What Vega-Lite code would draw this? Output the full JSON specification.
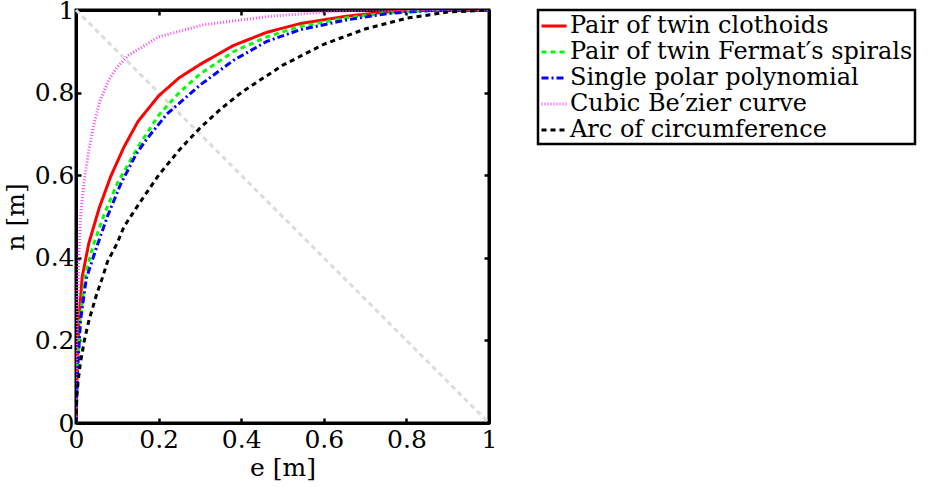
{
  "$schema": "https://vega.github.io/schema/vega-lite/v6.json",
  "width": 413,
  "height": 413,
  "autosize": {"type": "none"},
  "padding": {"left": 76, "top": 10, "right": 442, "bottom": 64},
  "background": "white",
  "config": {
    "view": {"stroke": "black", "strokeWidth": 3},
    "font": "DejaVu Serif",
    "axis": {
      "domainColor": "black", "domainWidth": 3, "tickColor": "black", "tickWidth": 2.5, "tickSize": -5,
      "labelFont": "DejaVu Serif", "labelFontSize": 25, "labelColor": "black", "labelFlush": false, "labelOverlap": false,
      "titleFont": "DejaVu Serif", "titleFontSize": 25, "titleFontWeight": "normal", "titleColor": "black",
      "grid": false
    },
    "legend": {
      "orient": "none", "legendX": 462, "legendY": 0,
      "strokeColor": "black", "strokeWidth": 2.5, "fillColor": "white", "padding": 2,
      "labelFont": "DejaVu Serif", "labelFontSize": 24, "labelColor": "black", "labelOffset": 2,
      "symbolType": "stroke", "symbolSize": 625, "rowPadding": 0, "labelLimit": 500
    }
  },
  "datasets": {
    "diag": [{"e": 0, "n": 1}, {"e": 1, "n": 0}],
    "curves": [
      {"series": "Pair of twin clothoids", "e": 0, "n": 0},
      {"series": "Pair of twin clothoids", "e": 0.001, "n": 0.07},
      {"series": "Pair of twin clothoids", "e": 0.003, "n": 0.13},
      {"series": "Pair of twin clothoids", "e": 0.007, "n": 0.25},
      {"series": "Pair of twin clothoids", "e": 0.015, "n": 0.354},
      {"series": "Pair of twin clothoids", "e": 0.031, "n": 0.435},
      {"series": "Pair of twin clothoids", "e": 0.056, "n": 0.52},
      {"series": "Pair of twin clothoids", "e": 0.084, "n": 0.597},
      {"series": "Pair of twin clothoids", "e": 0.116, "n": 0.668},
      {"series": "Pair of twin clothoids", "e": 0.15, "n": 0.73},
      {"series": "Pair of twin clothoids", "e": 0.2, "n": 0.792},
      {"series": "Pair of twin clothoids", "e": 0.25, "n": 0.836},
      {"series": "Pair of twin clothoids", "e": 0.3, "n": 0.868},
      {"series": "Pair of twin clothoids", "e": 0.381, "n": 0.914},
      {"series": "Pair of twin clothoids", "e": 0.462, "n": 0.946},
      {"series": "Pair of twin clothoids", "e": 0.542, "n": 0.967},
      {"series": "Pair of twin clothoids", "e": 0.655, "n": 0.985},
      {"series": "Pair of twin clothoids", "e": 0.75, "n": 0.995},
      {"series": "Pair of twin clothoids", "e": 0.85, "n": 1},
      {"series": "Pair of twin clothoids", "e": 1, "n": 1},

      {"series": "Pair of twin Fermat′s spirals", "e": 0, "n": 0},
      {"series": "Pair of twin Fermat′s spirals", "e": 0.001, "n": 0.06},
      {"series": "Pair of twin Fermat′s spirals", "e": 0.004, "n": 0.13},
      {"series": "Pair of twin Fermat′s spirals", "e": 0.01, "n": 0.25},
      {"series": "Pair of twin Fermat′s spirals", "e": 0.023, "n": 0.36},
      {"series": "Pair of twin Fermat′s spirals", "e": 0.04, "n": 0.425},
      {"series": "Pair of twin Fermat′s spirals", "e": 0.068, "n": 0.505},
      {"series": "Pair of twin Fermat′s spirals", "e": 0.1, "n": 0.58},
      {"series": "Pair of twin Fermat′s spirals", "e": 0.148, "n": 0.665},
      {"series": "Pair of twin Fermat′s spirals", "e": 0.2, "n": 0.745},
      {"series": "Pair of twin Fermat′s spirals", "e": 0.25, "n": 0.8},
      {"series": "Pair of twin Fermat′s spirals", "e": 0.3, "n": 0.845},
      {"series": "Pair of twin Fermat′s spirals", "e": 0.381, "n": 0.899},
      {"series": "Pair of twin Fermat′s spirals", "e": 0.462, "n": 0.935},
      {"series": "Pair of twin Fermat′s spirals", "e": 0.542, "n": 0.96},
      {"series": "Pair of twin Fermat′s spirals", "e": 0.655, "n": 0.981},
      {"series": "Pair of twin Fermat′s spirals", "e": 0.76, "n": 0.993},
      {"series": "Pair of twin Fermat′s spirals", "e": 0.87, "n": 1},
      {"series": "Pair of twin Fermat′s spirals", "e": 1, "n": 1},

      {"series": "Single polar polynomial", "e": 0, "n": 0},
      {"series": "Single polar polynomial", "e": 0.001, "n": 0.05},
      {"series": "Single polar polynomial", "e": 0.004, "n": 0.13},
      {"series": "Single polar polynomial", "e": 0.011, "n": 0.249},
      {"series": "Single polar polynomial", "e": 0.025, "n": 0.35},
      {"series": "Single polar polynomial", "e": 0.048, "n": 0.42},
      {"series": "Single polar polynomial", "e": 0.076, "n": 0.5},
      {"series": "Single polar polynomial", "e": 0.108, "n": 0.578},
      {"series": "Single polar polynomial", "e": 0.145, "n": 0.65},
      {"series": "Single polar polynomial", "e": 0.171, "n": 0.687},
      {"series": "Single polar polynomial", "e": 0.22, "n": 0.748},
      {"series": "Single polar polynomial", "e": 0.3, "n": 0.818},
      {"series": "Single polar polynomial", "e": 0.381, "n": 0.878},
      {"series": "Single polar polynomial", "e": 0.462, "n": 0.924},
      {"series": "Single polar polynomial", "e": 0.542, "n": 0.952},
      {"series": "Single polar polynomial", "e": 0.655, "n": 0.976},
      {"series": "Single polar polynomial", "e": 0.76, "n": 0.992},
      {"series": "Single polar polynomial", "e": 0.88, "n": 1},
      {"series": "Single polar polynomial", "e": 1, "n": 1},

      {"series": "Cubic Be′zier curve", "e": 0, "n": 0},
      {"series": "Cubic Be′zier curve", "e": 0.0005, "n": 0.1},
      {"series": "Cubic Be′zier curve", "e": 0.002, "n": 0.22},
      {"series": "Cubic Be′zier curve", "e": 0.005, "n": 0.35},
      {"series": "Cubic Be′zier curve", "e": 0.008, "n": 0.43},
      {"series": "Cubic Be′zier curve", "e": 0.011, "n": 0.5},
      {"series": "Cubic Be′zier curve", "e": 0.019, "n": 0.58},
      {"series": "Cubic Be′zier curve", "e": 0.031, "n": 0.661},
      {"series": "Cubic Be′zier curve", "e": 0.045, "n": 0.73},
      {"series": "Cubic Be′zier curve", "e": 0.058, "n": 0.78},
      {"series": "Cubic Be′zier curve", "e": 0.08, "n": 0.832},
      {"series": "Cubic Be′zier curve", "e": 0.1, "n": 0.862},
      {"series": "Cubic Be′zier curve", "e": 0.127, "n": 0.89},
      {"series": "Cubic Be′zier curve", "e": 0.2, "n": 0.935},
      {"series": "Cubic Be′zier curve", "e": 0.308, "n": 0.964},
      {"series": "Cubic Be′zier curve", "e": 0.462, "n": 0.984},
      {"series": "Cubic Be′zier curve", "e": 0.6, "n": 0.995},
      {"series": "Cubic Be′zier curve", "e": 0.7, "n": 1},
      {"series": "Cubic Be′zier curve", "e": 1, "n": 1},

      {"series": "Arc of circumference", "e": 0, "n": 0},
      {"series": "Arc of circumference", "e": 0.002, "n": 0.063},
      {"series": "Arc of circumference", "e": 0.005, "n": 0.1},
      {"series": "Arc of circumference", "e": 0.01, "n": 0.141},
      {"series": "Arc of circumference", "e": 0.02, "n": 0.199},
      {"series": "Arc of circumference", "e": 0.031, "n": 0.247},
      {"series": "Arc of circumference", "e": 0.05, "n": 0.312},
      {"series": "Arc of circumference", "e": 0.064, "n": 0.352},
      {"series": "Arc of circumference", "e": 0.076, "n": 0.39},
      {"series": "Arc of circumference", "e": 0.1, "n": 0.436},
      {"series": "Arc of circumference", "e": 0.116, "n": 0.475},
      {"series": "Arc of circumference", "e": 0.15, "n": 0.527},
      {"series": "Arc of circumference", "e": 0.2, "n": 0.6},
      {"series": "Arc of circumference", "e": 0.25, "n": 0.661},
      {"series": "Arc of circumference", "e": 0.3, "n": 0.714},
      {"series": "Arc of circumference", "e": 0.35, "n": 0.76},
      {"series": "Arc of circumference", "e": 0.4, "n": 0.8},
      {"series": "Arc of circumference", "e": 0.5, "n": 0.866},
      {"series": "Arc of circumference", "e": 0.6, "n": 0.917},
      {"series": "Arc of circumference", "e": 0.7, "n": 0.954},
      {"series": "Arc of circumference", "e": 0.8, "n": 0.98},
      {"series": "Arc of circumference", "e": 0.9, "n": 0.995},
      {"series": "Arc of circumference", "e": 1, "n": 1}
    ]
  },
  "layer": [
    {
      "data": {"name": "diag"},
      "mark": {"type": "line", "color": "#dcdcdc", "strokeWidth": 3, "strokeDash": [5, 4]},
      "encoding": {
        "x": {"field": "e", "type": "quantitative", "scale": {"domain": [0, 1], "nice": false},
              "axis": {"orient": "top", "labels": false, "title": null, "values": [0, 0.2, 0.4, 0.6, 0.8, 1]}},
        "y": {"field": "n", "type": "quantitative", "scale": {"domain": [0, 1], "nice": false},
              "axis": {"orient": "right", "labels": false, "title": null, "values": [0, 0.2, 0.4, 0.6, 0.8, 1]}}
      }
    },
    {
      "data": {"name": "curves"},
      "mark": {"type": "line", "clip": true},
      "encoding": {
        "x": {"field": "e", "type": "quantitative", "scale": {"domain": [0, 1], "nice": false},
              "axis": {"orient": "bottom", "title": "e [m]", "format": "~g", "values": [0, 0.2, 0.4, 0.6, 0.8, 1], "labelPadding": 9, "titlePadding": 3}},
        "y": {"field": "n", "type": "quantitative", "scale": {"domain": [0, 1], "nice": false},
              "axis": {"orient": "left", "title": "n [m]", "format": "~g", "values": [0, 0.2, 0.4, 0.6, 0.8, 1], "labelPadding": 7, "titlePadding": 6}},
        "color": {
          "field": "series", "type": "nominal",
          "scale": {
            "domain": ["Pair of twin clothoids", "Pair of twin Fermat′s spirals", "Single polar polynomial", "Cubic Be′zier curve", "Arc of circumference"],
            "range": ["#ff0000", "#00ff00", "#0000ff", "#ff44ff", "#000000"]
          },
          "legend": {"title": null}
        },
        "strokeDash": {
          "field": "series", "type": "nominal",
          "scale": {
            "domain": ["Pair of twin clothoids", "Pair of twin Fermat′s spirals", "Single polar polynomial", "Cubic Be′zier curve", "Arc of circumference"],
            "range": [[1, 0], [5, 4], [7, 3, 2, 3], [1, 2], [5, 4]]
          },
          "legend": {"title": null}
        },
        "strokeWidth": {
          "field": "series", "type": "nominal",
          "scale": {
            "domain": ["Pair of twin clothoids", "Pair of twin Fermat′s spirals", "Single polar polynomial", "Cubic Be′zier curve", "Arc of circumference"],
            "range": [3, 3, 2.5, 1.5, 3]
          },
          "legend": {"title": null}
        }
      }
    }
  ],
  "resolve": {"axis": {"x": "independent", "y": "independent"}}
}
